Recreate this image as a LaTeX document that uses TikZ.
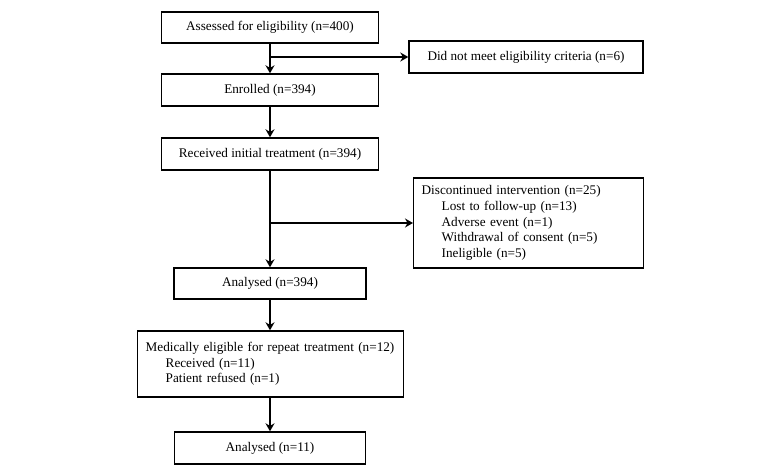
\documentclass[tikz,border=0pt]{standalone}
\usepackage{fontspec}
\setmainfont{Liberation Serif}
\usetikzlibrary{arrows.meta}
\begin{document}
\begin{tikzpicture}[x=1pt, y=-1pt, >={Stealth[length=8pt,width=9pt]},
    box/.style={draw=black, line width=1.4pt, inner sep=0pt, minimum height=31pt, font=\fontsize{13.2}{15.6}\selectfont},
    listbox/.style={box, align=left, inner xsep=8pt, anchor=west},
    flow/.style={draw=black, line width=1.6pt, ->}]
    \useasboundingbox (0,0) rectangle (783,473);
    \node (assess) [box, minimum width=217pt] at (270,27.5) {Assessed for eligibility (n=400)};
    \node (excl)   [box, minimum width=234pt, minimum height=32pt] at (526,57) {Did not meet eligibility criteria (n=6)};
    \node (enrol)  [box, minimum width=217pt, minimum height=32pt] at (270,90) {Enrolled (n=394)};
    \node (recv)   [box, minimum width=217pt, minimum height=32pt] at (270,154) {Received initial treatment (n=394)};
    \node (disc)   [listbox, text width=214pt, minimum height=90pt] at (413,223)
        {Discontinued intervention (n=25)\\
         \hspace*{20pt}Lost to follow-up (n=13)\\
         \hspace*{20pt}Adverse event (n=1)\\
         \hspace*{20pt}Withdrawal of consent (n=5)\\
         \hspace*{20pt}Ineligible (n=5)};
    \node (anal1)  [box, minimum width=192pt] at (270,283.5) {Analysed (n=394)};
    \node (medic)  [listbox, text width=250pt, minimum height=66pt] at (137,364)
        {Medically eligible for repeat treatment (n=12)\\
         \hspace*{20pt}Received (n=11)\\
         \hspace*{20pt}Patient refused (n=1)};
    \node (anal2)  [box, minimum width=191pt, minimum height=32pt] at (270,448) {Analysed (n=11)};
    % main flow
    \coordinate (split1) at (270,57);
    \coordinate (split2) at (270,223);
    \draw [flow] (assess.south) -- (enrol.north);
    \draw [flow] (split1) -- (excl.west);
    \draw [flow] (enrol.south) -- (recv.north);
    \draw [flow] (recv.south) -- (anal1.north);
    \draw [flow] (split2) -- (disc.west);
    \draw [flow] (anal1.south) -- (anal1.south |- medic.north);
    \draw [flow] (medic.south -| anal1.south) -- (anal2.north);
\end{tikzpicture}
\end{document}
